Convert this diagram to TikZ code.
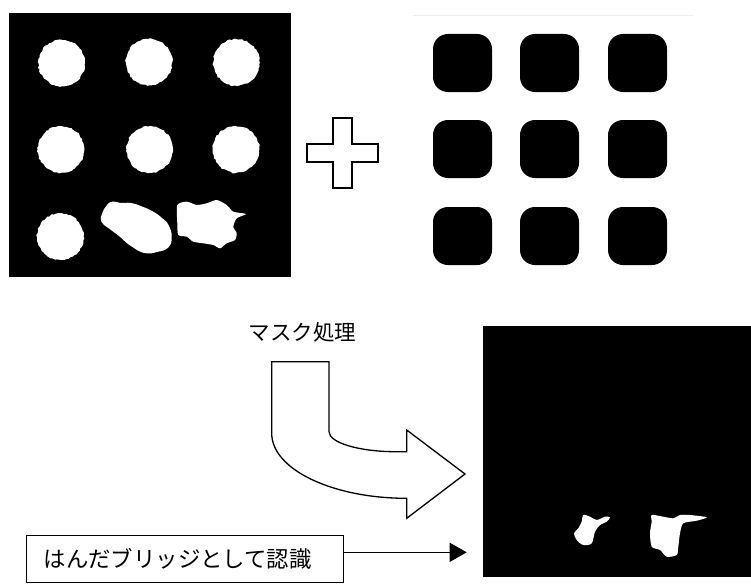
\documentclass[tikz,border=0pt]{standalone}
\usepackage{fontspec}
\newfontfamily\jp{Noto Sans CJK JP}
\usetikzlibrary{arrows.meta,decorations.pathmorphing,calc}
\pgfmathsetseed{7}
\begin{document}
\begin{tikzpicture}[x=1pt,y=-1pt,
  rough/.style={fill=white, decorate, decoration={random steps,segment length=2.2pt,amplitude=0.7pt}},
  blob/.style={fill=white},
  pad/.style={fill=black, rounded corners=15pt},
  outline/.style={draw=black, line width=1.3pt, fill=white, line join=miter},
  jptext/.style={font=\jp\fontsize{21.5}{25}\selectfont, inner sep=0pt}]
\useasboundingbox (0,0) rectangle (751,586);
% --- left image: solder pads (binary) ---
\fill[black] (9,13) rectangle (291,277);
\foreach \cx/\cy in {61.7/63, 149/62, 236.5/62.5, 61/149.5, 149.7/149.5, 236/149.5, 60.3/236.7}
  \fill[rough] (\cx,\cy) circle (23.3pt);
\fill[blob] plot[smooth cycle, tension=0.8] coordinates {(102,214) (107,205) (113,201.5) (121,203) (131,203) (142,206.5) (153,211.5) (162,218) (168.5,225) (171.7,236.7) (168.3,247.5) (157,252) (146.7,253.3) (137,250) (128,244) (119,236) (109,228.5) (101.5,222)};
\fill[blob] plot[smooth cycle, tension=0.4] coordinates {(177.3,205) (186.7,201.7) (196.7,205) (206.7,203.3) (216.7,200) (226.7,205) (233.3,211.7) (246,214) (236.7,218.3) (233.3,226.7) (236.7,233.3) (235,240) (226.7,243.3) (220,248.3) (213.3,245) (203.3,243.3) (193.3,241.7) (186.7,236.7) (178.3,235) (177.3,223.3)};
% --- plus sign ---
\draw[outline, line width=1.2pt] (333,118) -- (352,118) -- (352,144) -- (378,144) -- (378,162) -- (352,162) -- (352,188) -- (333,188) -- (333,162) -- (307,162) -- (307,144) -- (333,144) -- cycle;
% --- right image: mask ---
\draw[black!7, line width=0.8pt] (413,15) -- (693,15);
\foreach \px in {433,520,608}
  \foreach \py in {34,120,207}
    \fill[pad] (\px,\py) rectangle ++(59,58);
% --- label and curved arrow ---
\node[jptext] (mask) at (302.5,332) {マスク処理};
\draw[outline] (271.7,361.7) -- (329,361.7) -- (329,431.7)
  .. controls (329,442.7) and (359,451.7) .. (396,451.7)
  -- (406.7,451.7) -- (406.7,430) -- (465,474) -- (406.7,518.3) -- (406.7,498.3)
  .. controls (332.1,498.3) and (271.7,469.2) .. (271.7,433.3) -- cycle;
% --- result image ---
\fill[black] (483,326) rectangle (751,577);
\fill[blob] plot[smooth cycle, tension=0.5] coordinates {(583.3,515) (590,516.7) (596.7,520) (605,516.7) (610,517.3) (606.7,521.7) (600,525) (595,531.7) (591.7,543.3) (583.3,545) (576.7,540) (574,533.3) (578.3,528.3) (581.7,521.7)};
\fill[blob] plot[smooth cycle, tension=0.45] coordinates {(651.7,515) (663.3,516.7) (673.3,518.3) (680,515) (690,515) (706.7,517.3) (696.7,520.7) (683.3,523.3) (680,533.3) (678.3,546.7) (676.7,555) (666.7,556.7) (660,550) (651.7,546.7) (650,533.3) (651.7,521.7)};
% --- bottom label box and arrow ---
\node[draw, line width=1.3pt, anchor=north west, minimum height=47.5pt, text width=283pt,
      inner xsep=17pt, inner ysep=0pt, align=left, font=\jp\fontsize{22.4}{26}\selectfont] (box) at (26,534.5) {はんだブリッジとして認識};
\coordinate (tip) at (466.7,552.3);
\draw[line width=1.3pt, -{Triangle[length=17pt,width=19pt]}] (box.east |- tip) -- (tip);
\end{tikzpicture}
\end{document}
